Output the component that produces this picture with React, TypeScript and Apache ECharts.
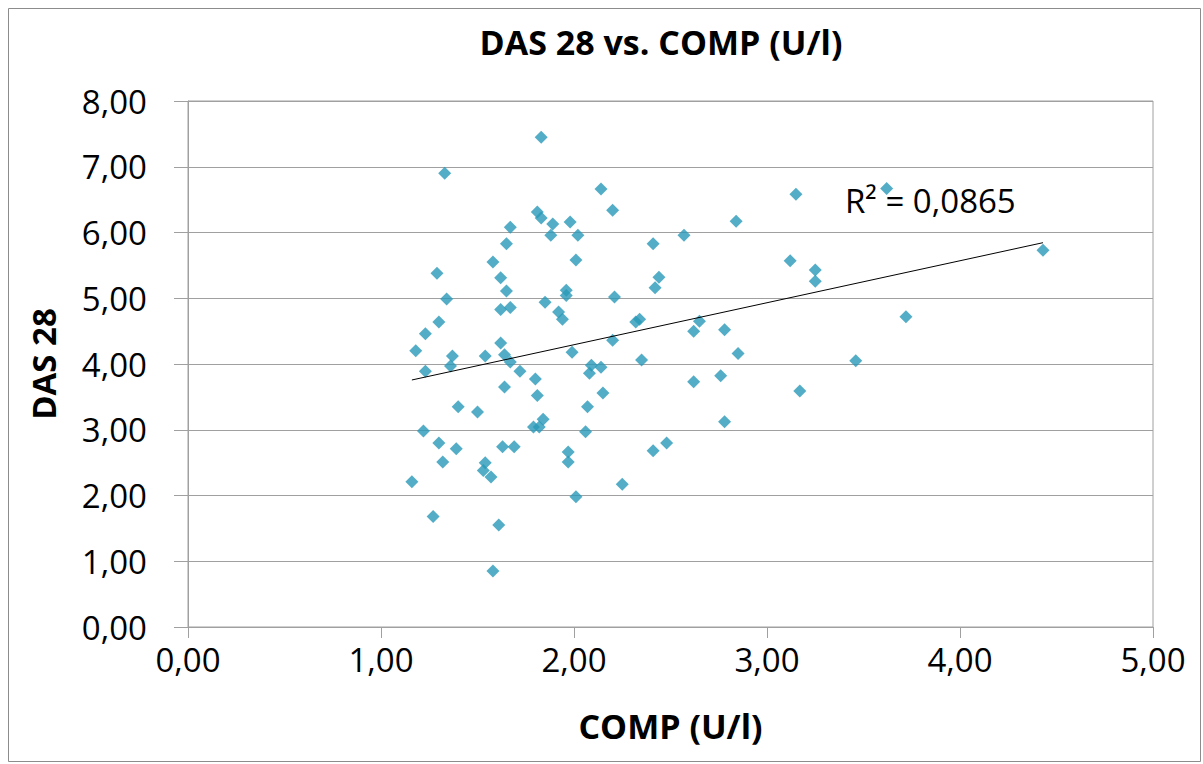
import React, { useEffect, useRef } from "react";
import * as echarts from "echarts";

const compValues: number[] = [
  1.83, 1.33, 1.81, 1.83, 1.89, 1.98, 1.67, 1.88, 2.02, 1.65, 2.01, 1.29, 1.58, 1.62, 1.65, 1.34,
  1.96, 1.96, 1.85, 1.62, 1.67, 1.92, 1.94, 1.3, 1.23, 1.18, 1.62, 1.37, 1.54, 1.64, 1.67, 1.99,
  1.36, 1.23, 1.72, 1.8,
  1.64, 1.81, 2.07, 1.4, 1.5, 1.84, 1.79, 1.82, 2.06, 1.22, 1.3, 1.39, 1.63, 1.69, 1.97, 1.97,
  1.32, 1.54, 1.53, 1.57, 1.16, 2.01, 1.27, 1.61, 1.58,
  2.14, 2.2, 2.84, 2.57, 2.41, 2.44, 2.42, 2.21, 2.34, 2.32, 2.65, 2.62, 2.78, 2.2, 2.85, 2.35,
  2.09, 2.14, 2.08, 2.62, 2.76,
  2.15, 2.25, 2.41, 2.48, 2.78,
  3.15, 3.62, 3.12, 3.25, 3.25, 4.43, 3.72, 3.46, 3.17,
];

const das28Values: number[] = [
  7.45, 6.9, 6.31, 6.22, 6.13, 6.16, 6.08, 5.96, 5.96, 5.83, 5.58, 5.38, 5.55, 5.31, 5.11, 4.99,
  5.12, 5.04, 4.94, 4.83, 4.86, 4.79, 4.68, 4.64, 4.46, 4.2, 4.32, 4.12, 4.12, 4.14, 4.03, 4.18,
  3.97, 3.89, 3.89, 3.77,
  3.65, 3.52, 3.35, 3.35, 3.27, 3.16, 3.04, 3.04, 2.97, 2.98, 2.8, 2.71, 2.74, 2.74, 2.66, 2.51,
  2.51, 2.5, 2.38, 2.28, 2.21, 1.98, 1.68, 1.55, 0.85,
  6.66, 6.34, 6.17, 5.96, 5.83, 5.32, 5.16, 5.02, 4.68, 4.64, 4.65, 4.5, 4.52, 4.36, 4.16, 4.06,
  3.98, 3.95, 3.86, 3.73, 3.82,
  3.56, 2.17, 2.68, 2.8, 3.12,
  6.58, 6.67, 5.57, 5.43, 5.26, 5.73, 4.72, 4.05, 3.59,
];

const trendX: number[] = [1.16, 4.43];
const trendY: number[] = [3.757, 5.845];

const titleText = "DAS 28 vs. COMP (U/l)";
const xAxisTitle = "COMP (U/l)";
const yAxisTitle = "DAS 28";
const r2Text = "R² = 0,0865";

const FONT = "'Open Sans', 'Noto Sans', sans-serif";

export default function App() {
  const ref = useRef<HTMLDivElement>(null);
  useEffect(() => {
    if (!ref.current) return;
    const chart = echarts.init(ref.current, undefined, { renderer: "svg" });
    const points = compValues.map((x, i) => [x, das28Values[i]]);
    const trend = trendX.map((x, i) => [x, trendY[i]]);
    const fmt = (v: number) => v.toFixed(2).replace(".", ",");
    chart.setOption({
      animation: false,
      backgroundColor: "#ffffff",
      title: {
        text: titleText,
        left: 656,
        top: 20,
        textAlign: "center",
        textStyle: { fontFamily: FONT, fontWeight: "bold", fontSize: 34, color: "#000" },
      },
      grid: {
        left: 188,
        right: 50,
        top: 101,
        bottom: 137,
        show: true,
        borderColor: "#a0a0a0",
        borderWidth: 1,
      },
      xAxis: {
        type: "value",
        min: 0,
        max: 5,
        interval: 1,
        name: xAxisTitle,
        nameLocation: "middle",
        nameGap: 82,
        nameTextStyle: { fontFamily: FONT, fontWeight: "bold", fontSize: 34, color: "#000" },
        axisLine: { show: true, lineStyle: { color: "#a0a0a0", width: 1 } },
        axisTick: { show: true, inside: false, length: 11, lineStyle: { color: "#a0a0a0" } },
        splitLine: { show: false },
        axisLabel: {
          fontFamily: FONT,
          fontSize: 33,
          color: "#000",
          margin: 16,
          formatter: fmt,
        },
      },
      yAxis: {
        type: "value",
        min: 0,
        max: 8,
        interval: 1,
        name: yAxisTitle,
        nameLocation: "middle",
        nameGap: 128,
        nameRotate: 90,
        nameTextStyle: { fontFamily: FONT, fontWeight: "bold", fontSize: 33, color: "#000" },
        axisLine: { show: true, lineStyle: { color: "#a0a0a0", width: 1 } },
        axisTick: { show: true, inside: false, length: 14, lineStyle: { color: "#a0a0a0" } },
        splitLine: { show: true, lineStyle: { color: "#a0a0a0", width: 1 } },
        axisLabel: {
          fontFamily: FONT,
          fontSize: 33,
          color: "#000",
          margin: 41,
          formatter: fmt,
        },
      },
      series: [
        {
          type: "scatter",
          data: points,
          symbol: "diamond",
          symbolSize: 13,
          itemStyle: { color: "#2898b8" },
          z: 3,
        },
        {
          type: "line",
          data: trend,
          showSymbol: false,
          symbol: "none",
          lineStyle: { color: "#000", width: 1 },
          z: 4,
        },
      ],
      graphic: [
        {
          type: "rect",
          shape: { x: 8.5, y: 8.5, width: 1192, height: 753 },
          style: { fill: "none", stroke: "#8c8c8c", lineWidth: 1 },
          silent: true,
        },
        {
          type: "text",
          left: 845,
          top: 184,
          style: { text: r2Text, fontFamily: FONT, fontSize: 33, fill: "#000" },
          z: 10,
        },
      ],
    });
    return () => chart.dispose();
  }, []);
  return (
    <div
      ref={ref}
      style={{ position: "fixed", left: 0, top: 0, width: 1203, height: 764 }}
    />
  );
}
